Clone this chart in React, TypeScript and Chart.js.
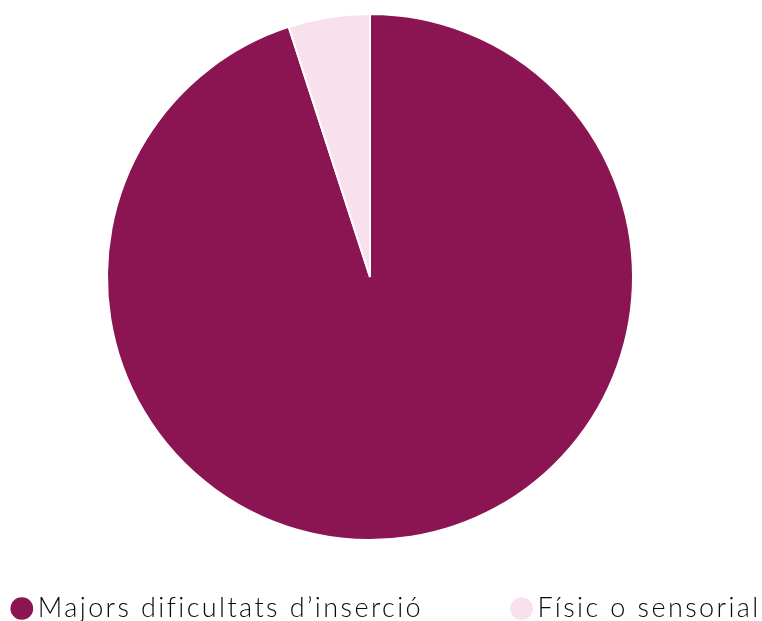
import React, { useEffect, useRef } from "react";
import { Chart, registerables } from "chart.js";

Chart.register(...registerables);

const categories: string[] = ["Majors dificultats d’inserció", "Físic o sensorial"];
const values: number[] = [95, 5];
const sliceColors: string[] = ["#8b1452", "#f8e1ec"];

const W = 762;
const H = 632;
const LEGEND_SHIFT = 170;
const LETTER_SPACING = "2.4px";

const spacingPlugin = {
  id: "spacingPlugin",
  beforeLayout(chart: any) {
    chart.ctx.letterSpacing = LETTER_SPACING;
  },
  afterLayout(chart: any) {
    const lg = chart.legend;
    if (lg) {
      lg.left += LEGEND_SHIFT;
      lg.right += LEGEND_SHIFT;
    }
  },
  beforeDraw(chart: any) {
    chart.ctx.letterSpacing = LETTER_SPACING;
  },
};

export default function App() {
  const ref = useRef<HTMLCanvasElement | null>(null);

  useEffect(() => {
    if (!ref.current) return;
    const chart = new Chart(ref.current, {
      type: "pie",
      data: {
        labels: categories,
        datasets: [
          {
            data: values,
            backgroundColor: sliceColors,
            borderColor: "#ffffff",
            borderWidth: 2,
            radius: 263,
            clip: false as any,
          } as any,
        ],
      },
      options: {
        responsive: false,
        animation: false,
        layout: { padding: { top: 55, right: 22, left: -300, bottom: 0 } },
        plugins: {
          tooltip: { enabled: false },
          legend: {
            position: "bottom",
            labels: {
              usePointStyle: true,
              pointStyle: "circle",
              boxWidth: 5,
              boxHeight: 17.5,
              padding: 96,
              color: "#0a0a0a",
              font: { family: "Lato", size: 27, weight: "300" as any },
            },
          },
        },
      },
      plugins: [spacingPlugin],
    });
    return () => chart.destroy();
  }, []);

  return (
    <div style={{ position: "fixed", left: 0, top: 0, width: W, height: 621, overflow: "hidden", background: "#fff" }}>
      <canvas ref={ref} width={W} height={H} style={{ display: "block", width: W, height: H }} />
    </div>
  );
}
